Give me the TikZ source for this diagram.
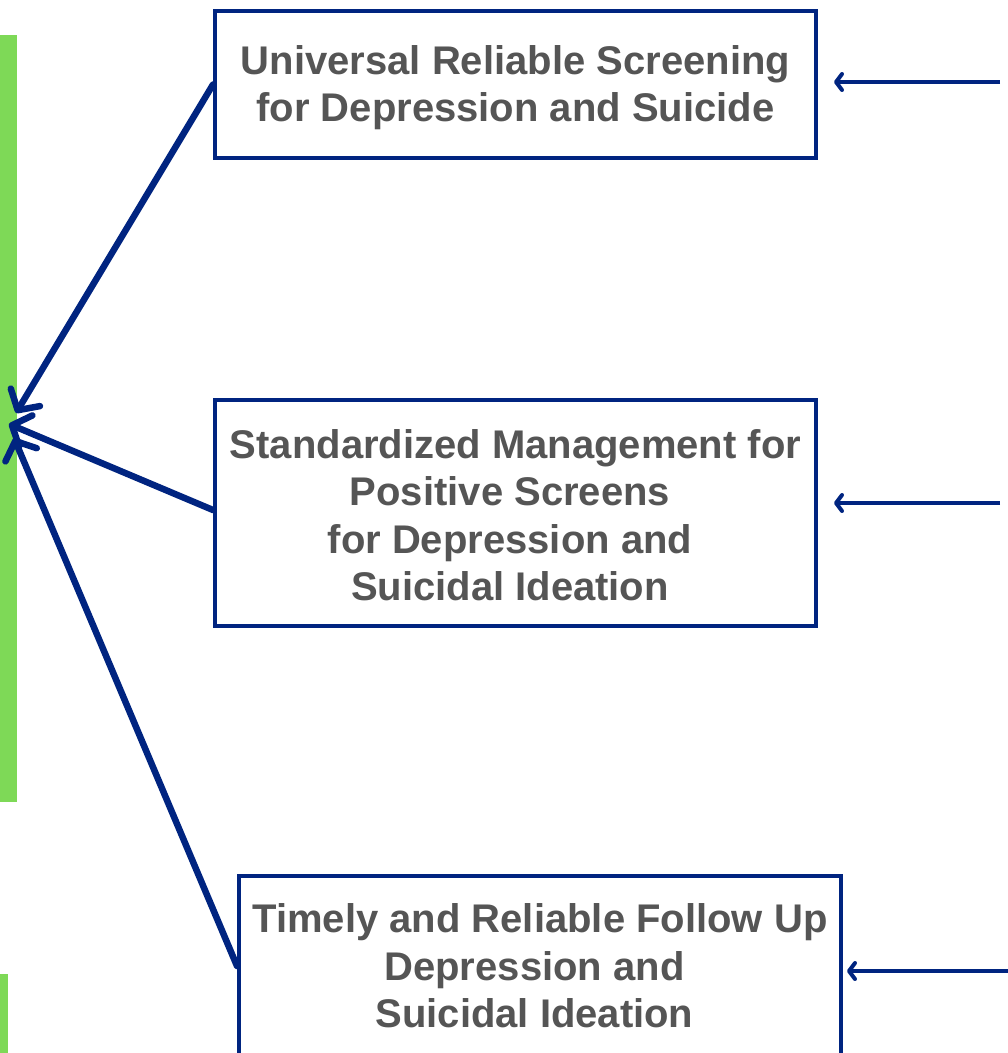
\documentclass[tikz,border=0pt]{standalone}
\usepackage{fontspec}
\setmainfont{Liberation Sans}
\usetikzlibrary{arrows.meta}
\definecolor{navy}{RGB}{0,36,128}
\definecolor{barg}{RGB}{126,217,87}
\definecolor{txtg}{RGB}{85,85,85}
\newcommand{\trsp}{\rule{0.278em}{0pt}}
\tikzset{
  box/.style={draw=navy, line width=4pt, fill=white, align=center, inner sep=0pt,
    font=\fontsize{40}{47.5}\selectfont\bfseries, text=txtg},
  bigarrow/.style={draw=navy, line width=6.5pt, line cap=round,
    -{Straight Barb[length=15pt,width=34pt,line cap=round,line join=round]}},
  smallarrow/.style={draw=navy, line width=4pt,
    -{Straight Barb[length=6pt,width=16pt,line cap=round,line join=round]}},
  bar/.style={fill=barg, draw=none}
}
\begin{document}
\begin{tikzpicture}[x=1pt,y=-1pt]
\useasboundingbox (0,0) rectangle (1008,1053);
\clip (0,0) rectangle (1008,1053);
\fill[bar] (0,35) rectangle (17,802);
\fill[bar] (0,974) rectangle (8,1053);
\node[box, minimum width=601pt, minimum height=147pt] (b1) at (515.5,84.5)
  {\parbox{600pt}{\centering\vspace*{6pt}Universal Reliable Screening\\for Depression and Suicide}};
\node[box, minimum width=601pt, minimum height=226pt] (b2) at (515.5,513)
  {\parbox{600pt}{\centering\vspace*{4pt}Standardized Management for\\Positive Screens\trsp\\for Depression and\trsp\\Suicidal Ideation\trsp}};
\node[box, minimum width=602pt, minimum height=180pt] (b3) at (540,966)
  {\parbox{600pt}{\centering Timely and Reliable Follow Up\\Depression and\trsp\\Suicidal Ideation\trsp}};
\coordinate (t1) at (16,413);
\coordinate (t2) at (9,424);
\coordinate (t3) at (14,438);
\draw[bigarrow] (b1.west) -- (t1);
\draw[bigarrow] (b2.west) ++(0,-3) -- (t2);
\draw[bigarrow] (b3.west) -- (t3);
\coordinate (r1) at (1000,82);
\coordinate (e1) at (834,82);
\coordinate (r2) at (1000,503);
\coordinate (e2) at (834,503);
\coordinate (r3) at (1008,971);
\coordinate (e3) at (847,971);
\draw[smallarrow] (r1) -- (e1);
\draw[smallarrow] (r2) -- (e2);
\draw[smallarrow] (r3) -- (e3);
\end{tikzpicture}
\end{document}
